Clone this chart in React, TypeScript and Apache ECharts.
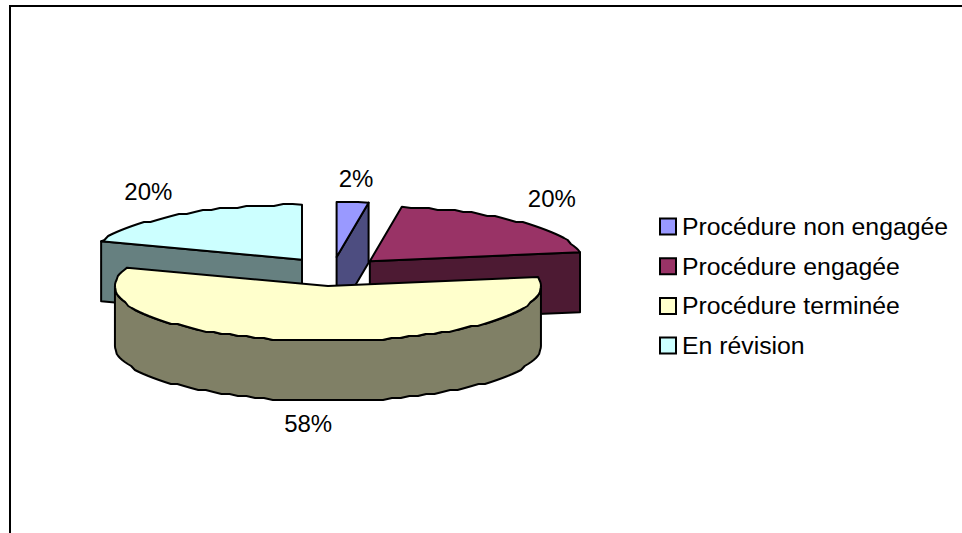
import React, { useEffect, useRef } from "react";
import * as echarts from "echarts";

const categories = ["Procédure non engagée", "Procédure engagée", "Procédure terminée", "En révision"];
const values = [2.4, 20, 58, 19.6];
const topColors = ["#9999FF", "#993366", "#FFFFCC", "#CCFFFF"];
const sideColors = ["#4D4D80", "#4D1A33", "#808066", "#668080"];
const labelNudge = [[0, 0], [0, 0], [3, 0], [-4, 1]];

const CX = 332.6, CY = 271.5, RX = 213, RY = 55, DEPTH = 60, EX = 53, EY = 14.5, GRID = 2;
const FONT = "'Liberation Sans', Arial, sans-serif";
const total = values.reduce((a, b) => a + b, 0);
const rad = (d: number) => (d * Math.PI) / 180;
const snap = (v: number) => Math.round(v / GRID) * GRID;

function geometry(i: number) {
  const start = (values.slice(0, i).reduce((a, b) => a + b, 0) / total) * 360;
  const end = start + (values[i] / total) * 360;
  const mid = (start + end) / 2;
  const cx = CX + EX * Math.sin(rad(mid));
  const cy = CY - EY * Math.cos(rad(mid));
  const pt = (a: number, dy = 0): number[] => [cx + RX * Math.sin(rad(a)), cy - RY * Math.cos(rad(a)) + dy];
  const arc = (a: number, b: number, dy = 0): number[][] => {
    const n = Math.max(1, Math.round(Math.abs(b - a) / 2.5));
    const out: number[][] = [];
    for (let k = 0; k <= n; k++) {
      const p = pt(a + ((b - a) * k) / n, dy);
      out.push(k === 0 || k === n ? p : [p[0], snap(p[1])]);
    }
    return out;
  };
  return { start, end, mid, cx, cy, pt, arc };
}

function renderSlice(i: number) {
  const g = geometry(i);
  const line = { stroke: "#000", lineWidth: 2, lineJoin: "round" };
  const poly = (points: number[][], fill: string) => ({
    type: "polygon",
    shape: { points },
    style: { fill, ...line },
  });
  const children: any[] = [];
  const apex = [g.cx, g.cy];
  const front = g.start < 270 && g.end > 90;
  if (front) {
    const a = Math.max(g.start, 90);
    const b = Math.min(g.end, 270);
    children.push(poly([...g.arc(a, b), ...g.arc(b, a, DEPTH)], sideColors[i]));
  } else {
    const cut = g.end >= 360 ? g.start : g.end;
    const p = g.pt(cut);
    children.push(
      poly([apex, p, [p[0], p[1] + DEPTH], [apex[0], apex[1] + DEPTH]], sideColors[i])
    );
  }
  children.push(poly([apex, ...g.arc(g.start, g.end)], topColors[i]));
  const rim = g.pt(g.mid, front ? DEPTH : 0);
  const up = Math.cos(rad(g.mid)) > 0;
  children.push({
    type: "text",
    style: {
      text: Math.round((values[i] / total) * 100) + "%",
      x: rim[0] + 46 * Math.sin(rad(g.mid)) + labelNudge[i][0],
      y: rim[1] + (up ? -24 : 23) + labelNudge[i][1],
      fontSize: 24,
      fontFamily: FONT,
      fill: "#000",
      align: "center",
      verticalAlign: "middle",
    },
  });
  return { type: "group", children };
}

export default function App() {
  const ref = useRef<HTMLDivElement>(null);
  useEffect(() => {
    document.body.style.margin = "0";
    const chart = echarts.init(ref.current!, null, { renderer: "svg" });
    chart.setOption({
      animation: false,
      backgroundColor: "#fff",
      legend: {
        data: categories,
        orient: "vertical",
        left: 659,
        top: 214,
        padding: 0,
        itemWidth: 16,
        itemHeight: 16,
        itemGap: 14.7,
        selectedMode: false,
        icon: "rect",
        itemStyle: { borderColor: "#000", borderWidth: 2 },
        textStyle: { fontSize: 24.8, fontFamily: FONT, color: "#000", padding: [0, 0, 0, 1] },
      },
      graphic: [
        {
          type: "polyline",
          shape: { points: [[10, 533], [10, 6], [962, 6]] },
          style: { stroke: "#000", lineWidth: 2, fill: "none" },
          silent: true,
        },
      ],
      series: categories.map((name, i) => ({
        type: "custom",
        name,
        coordinateSystem: "none",
        z: i === 2 ? 3 : 2,
        silent: true,
        itemStyle: { color: topColors[i] },
        data: [values[i]],
        renderItem: () => renderSlice(i),
      })),
    });
    return () => chart.dispose();
  }, []);
  return <div ref={ref} style={{ width: 962, height: 533 }} />;
}
